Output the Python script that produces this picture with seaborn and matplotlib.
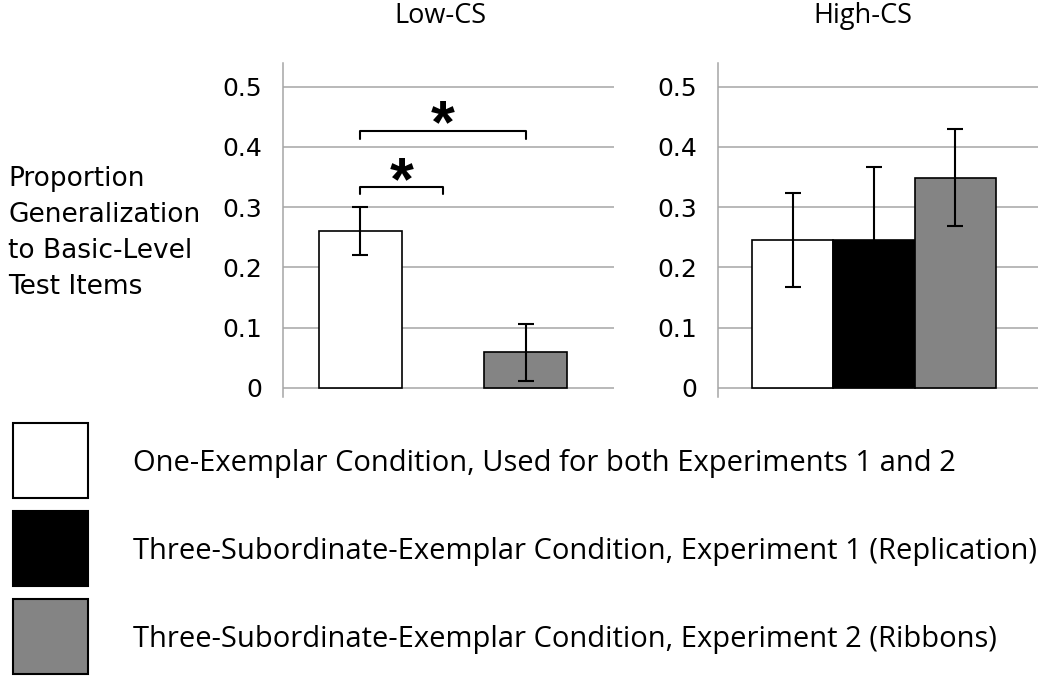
import matplotlib
matplotlib.use("Agg")
import matplotlib.pyplot as plt
import matplotlib.patches as mpatches
from matplotlib.legend_handler import HandlerPatch
import numpy as np
import pandas as pd
import seaborn as sns

# values
panels = ["Low-CS", "High-CS"]
conditions = [
    "One-Exemplar Condition, Used for both Experiments 1 and 2",
    "Three-Subordinate-Exemplar Condition, Experiment 1 (Replication)",
    "Three-Subordinate-Exemplar Condition, Experiment 2 (Ribbons)",
]
low_means = [0.26, 0.0, 0.059]
low_errs = [0.04, np.nan, 0.047]
high_means = [0.245, 0.246, 0.349]
high_errs = [0.078, 0.121, 0.080]
yticks = [0, 0.1, 0.2, 0.3, 0.4, 0.5]
ytick_labels = ["0", "0.1", "0.2", "0.3", "0.4", "0.5"]
# significance brackets on Low-CS: (bar a, bar b, bracket height, star height)
sig_pairs = [(0, 1, 0.334, 0.361), (0, 2, 0.426, 0.456)]
colors = ["white", "black", "#848484"]
ylabel = "Proportion\nGeneralization\nto Basic-Level\nTest Items"

df = pd.DataFrame({
    "panel": [panels[0]] * 3 + [panels[1]] * 3,
    "condition": conditions * 2,
    "value": low_means + high_means,
    "err": low_errs + high_errs,
})

sns.set_style("white")
plt.rcParams["font.family"] = ["DejaVu Sans"]
plt.rcParams["text.color"] = "black"

fig = plt.figure(figsize=(10.5, 6.79), dpi=100)
W, H = 1050, 679
# axes boxes in pixels: left, right, top, bottom
boxes = [(283, 614, 63, 397), (718, 1038, 63, 397)]
xlims = [(-0.516, 0.552), (-0.511, 0.538)]
title_x = [440, 863]
grid_col = "#a6a6a6"
star_fs = 44

for p, (l, r, t, b), xl, tx in zip(panels, boxes, xlims, title_x):
    ax = fig.add_axes([l / W, 1 - b / H, (r - l) / W, (b - t) / H])
    sub = df[df["panel"] == p]
    sns.barplot(data=sub, x="panel", y="value", hue="condition", hue_order=conditions,
                palette=colors, saturation=1, edgecolor="black", linewidth=1.2,
                errorbar=None, legend=False, width=0.8, ax=ax)
    bars = sorted(ax.patches, key=lambda bb: bb.get_x())
    xs = [bb.get_x() + bb.get_width() / 2 for bb in bars]
    for bb in bars:
        if bb.get_height() == 0:
            bb.set_edgecolor("none")
    means = sub["value"].to_numpy()
    errs = sub["err"].to_numpy()
    ok = ~np.isnan(errs)
    ax.errorbar(np.array(xs)[ok], means[ok], yerr=errs[ok], fmt="none", ecolor="black",
                elinewidth=1.5, capsize=6, capthick=1.5, zorder=4)

    if p == "Low-CS":
        for i, j, yb, ys in sig_pairs:
            ax.plot([xs[i], xs[i], xs[j], xs[j]], [yb - 0.013, yb, yb, yb - 0.013],
                    color="black", lw=1.5, zorder=4)
            ax.annotate("*", xy=((xs[i] + xs[j]) / 2, ys), xytext=(0, -0.47 * star_fs),
                        textcoords="offset points", ha="center", va="baseline",
                        fontsize=star_fs, fontweight="bold", family="Liberation Sans")

    ax.set_xlim(*xl)
    ax.set_ylim(-0.015, 0.539)
    ax.set_yticks(yticks, ytick_labels)
    ax.set_xticks([])
    ax.set_xlabel("")
    ax.set_ylabel("")
    ax.yaxis.grid(True, color=grid_col, linewidth=1.1)
    ax.set_axisbelow(True)
    for s in ["top", "right", "bottom"]:
        ax.spines[s].set_visible(False)
    ax.spines["left"].set_color(grid_col)
    ax.spines["left"].set_linewidth(1.1)
    ax.tick_params(axis="y", length=5.8, width=1.1, color=grid_col, pad=9,
                   labelsize=18, labelcolor="black")
    fig.text(tx / W, 1 - 23 / H, p, ha="center", va="baseline", family="Open Sans",
             fontsize=19.5)

fig.text(8 / W, 1 - 233 / H, ylabel, ha="left", va="center", fontsize=19, linespacing=1.5)


def square_patch(legend, orig_handle, xdescent, ydescent, width, height, fontsize):
    side = 54
    return mpatches.Rectangle((0, 0.357 * fontsize - side / 2), side, side)


handles = [mpatches.Patch(facecolor=c, edgecolor="black", linewidth=1.5) for c in colors]
fs = 21
fig.legend(handles, conditions, loc="upper left", bbox_to_anchor=(13 / W, 1 - 439 / H),
           frameon=False, prop={"family": "Open Sans", "size": fs}, borderpad=0,
           borderaxespad=0, handlelength=54 / fs, handleheight=2.0,
           handletextpad=32.4 / fs, labelspacing=1.476,
           handler_map={mpatches.Patch: HandlerPatch(patch_func=square_patch)})

fig.savefig("out.png", dpi=100)
